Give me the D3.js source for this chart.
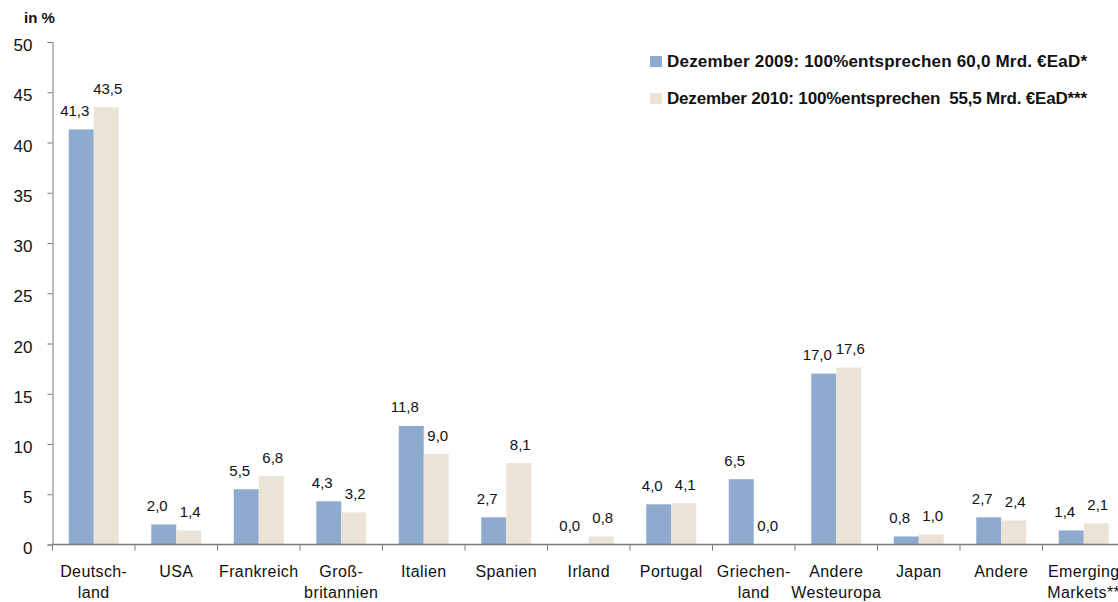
<!DOCTYPE html>
<html>
<head>
<meta charset="utf-8">
<script src="https://cdn.jsdelivr.net/npm/d3@7"></script>
<style>
  html, body { margin: 0; padding: 0; background: #fff; }
  svg { display: block; font-family: "Liberation Sans", Arial, sans-serif; }
</style>
</head>
<body>
<svg id="chart" width="1118" height="602"></svg>
<script>
// Exposure by country, share in %
const categories = [
  ["Deutsch-", "land"], ["USA"], ["Frankreich"], ["Groß-", "britannien"], ["Italien"],
  ["Spanien"], ["Irland"], ["Portugal"], ["Griechen-", "land"], ["Andere", "Westeuropa"],
  ["Japan"], ["Andere"], ["Emerging", "Markets**"]
];
const values2009 = [41.3, 2.0, 5.5, 4.3, 11.8, 2.7, 0.0, 4.0, 6.5, 17.0, 0.8, 2.7, 1.4];
const values2010 = [43.5, 1.4, 6.8, 3.2, 9.0, 8.1, 0.8, 4.1, 0.0, 17.6, 1.0, 2.4, 2.1];
const seriesNames = [
  "Dezember 2009: 100%entsprechen 60,0 Mrd. €EaD*",
  "Dezember 2010: 100%entsprechen  55,5 Mrd. €EaD***"
];
const yTicks = [0, 5, 10, 15, 20, 25, 30, 35, 40, 45, 50];
const colors = ["#8eaacf", "#ebe3d5"];

const svg = d3.select("#chart");
const axisColor = "#7a7a7a";

const left = 52.5, bandW = 82.5;
const x = d3.scaleBand()
  .domain(d3.range(categories.length))
  .range([left, left + bandW * categories.length])
  .paddingInner(0).paddingOuter(0);
const y = d3.scaleLinear().domain([0, 50]).range([544.5, 42]);

const inner = d3.scaleBand().domain([0, 1])
  .range([0, bandW]).paddingInner(0).paddingOuter(0.65);

// bars and value labels
const series = [values2009, values2010];
const labelShift = [-6.5, 1.5];
series.forEach((vals, s) => {
  svg.append("g").selectAll("rect")
    .data(vals)
    .join("rect")
    .attr("x", (d, i) => x(i) + inner(s))
    .attr("width", inner.bandwidth())
    .attr("y", d => y(d))
    .attr("height", d => y(0) - y(d))
    .attr("fill", colors[s]);

  svg.append("g").selectAll("text")
    .data(vals)
    .join("text")
    .attr("x", (d, i) => x(i) + inner(s) + inner.bandwidth() / 2 + labelShift[s])
    .attr("y", d => y(d) - 13.5)
    .attr("text-anchor", "middle")
    .attr("font-size", 15)
    .attr("fill", "#111")
    .text(d => d3.format(".1f")(d).replace(".", ","));
});

// y axis
const yAxis = d3.axisLeft(y).tickValues(yTicks).tickSize(5).tickPadding(15).tickFormat(d3.format("d"));
const gy = svg.append("g").attr("transform", `translate(${left},0)`).call(yAxis);
gy.select(".domain").attr("stroke", axisColor);
gy.selectAll(".tick line").attr("stroke", axisColor);
gy.selectAll(".tick text").attr("font-size", 17).attr("fill", "#111").attr("dy", "0.5em")
  .attr("font-family", "Liberation Sans, Arial, sans-serif");

// x axis with boundary ticks between categories
const gx = svg.append("g").attr("transform", `translate(0,${y(0)})`);
gx.append("line").attr("x1", left).attr("x2", left + bandW * categories.length)
  .attr("stroke", axisColor).attr("stroke-width", 1.5);
gx.selectAll("line.tk")
  .data(d3.range(categories.length + 1))
  .join("line").attr("class", "tk")
  .attr("x1", i => left + i * bandW).attr("x2", i => left + i * bandW)
  .attr("y1", 0).attr("y2", 6)
  .attr("stroke", axisColor);

// category labels
const lab = svg.append("g").selectAll("text")
  .data(categories)
  .join("text")
  .attr("x", (d, i) => x(i) + bandW / 2)
  .attr("y", 577)
  .attr("text-anchor", "middle")
  .attr("font-size", 16)
  .attr("letter-spacing", 0.4)
  .attr("fill", "#111");
lab.selectAll("tspan")
  .data(d => d)
  .join("tspan")
  .attr("x", function () { return d3.select(this.parentNode).attr("x"); })
  .attr("dy", (d, i) => i === 0 ? 0 : 21)
  .text(d => d);

// unit label
svg.append("text").attr("x", 24).attr("y", 23)
  .attr("font-size", 15).attr("font-weight", "bold").attr("fill", "#111")
  .text("in %");

// legend
const legend = svg.append("g").selectAll("g")
  .data(seriesNames)
  .join("g")
  .attr("transform", (d, i) => `translate(650,${55 + i * 37})`);
legend.append("rect").attr("width", 12).attr("height", 11).attr("y", 1)
  .attr("fill", (d, i) => colors[i]);
legend.append("text").attr("x", 17).attr("y", 11.5)
  .attr("font-size", 17).attr("font-weight", "bold").attr("fill", "#111")
  .attr("textLength", 420).attr("lengthAdjust", "spacing")
  .style("white-space", "pre").attr("xml:space", "preserve")
  .text(d => d);
</script>
</body>
</html>
